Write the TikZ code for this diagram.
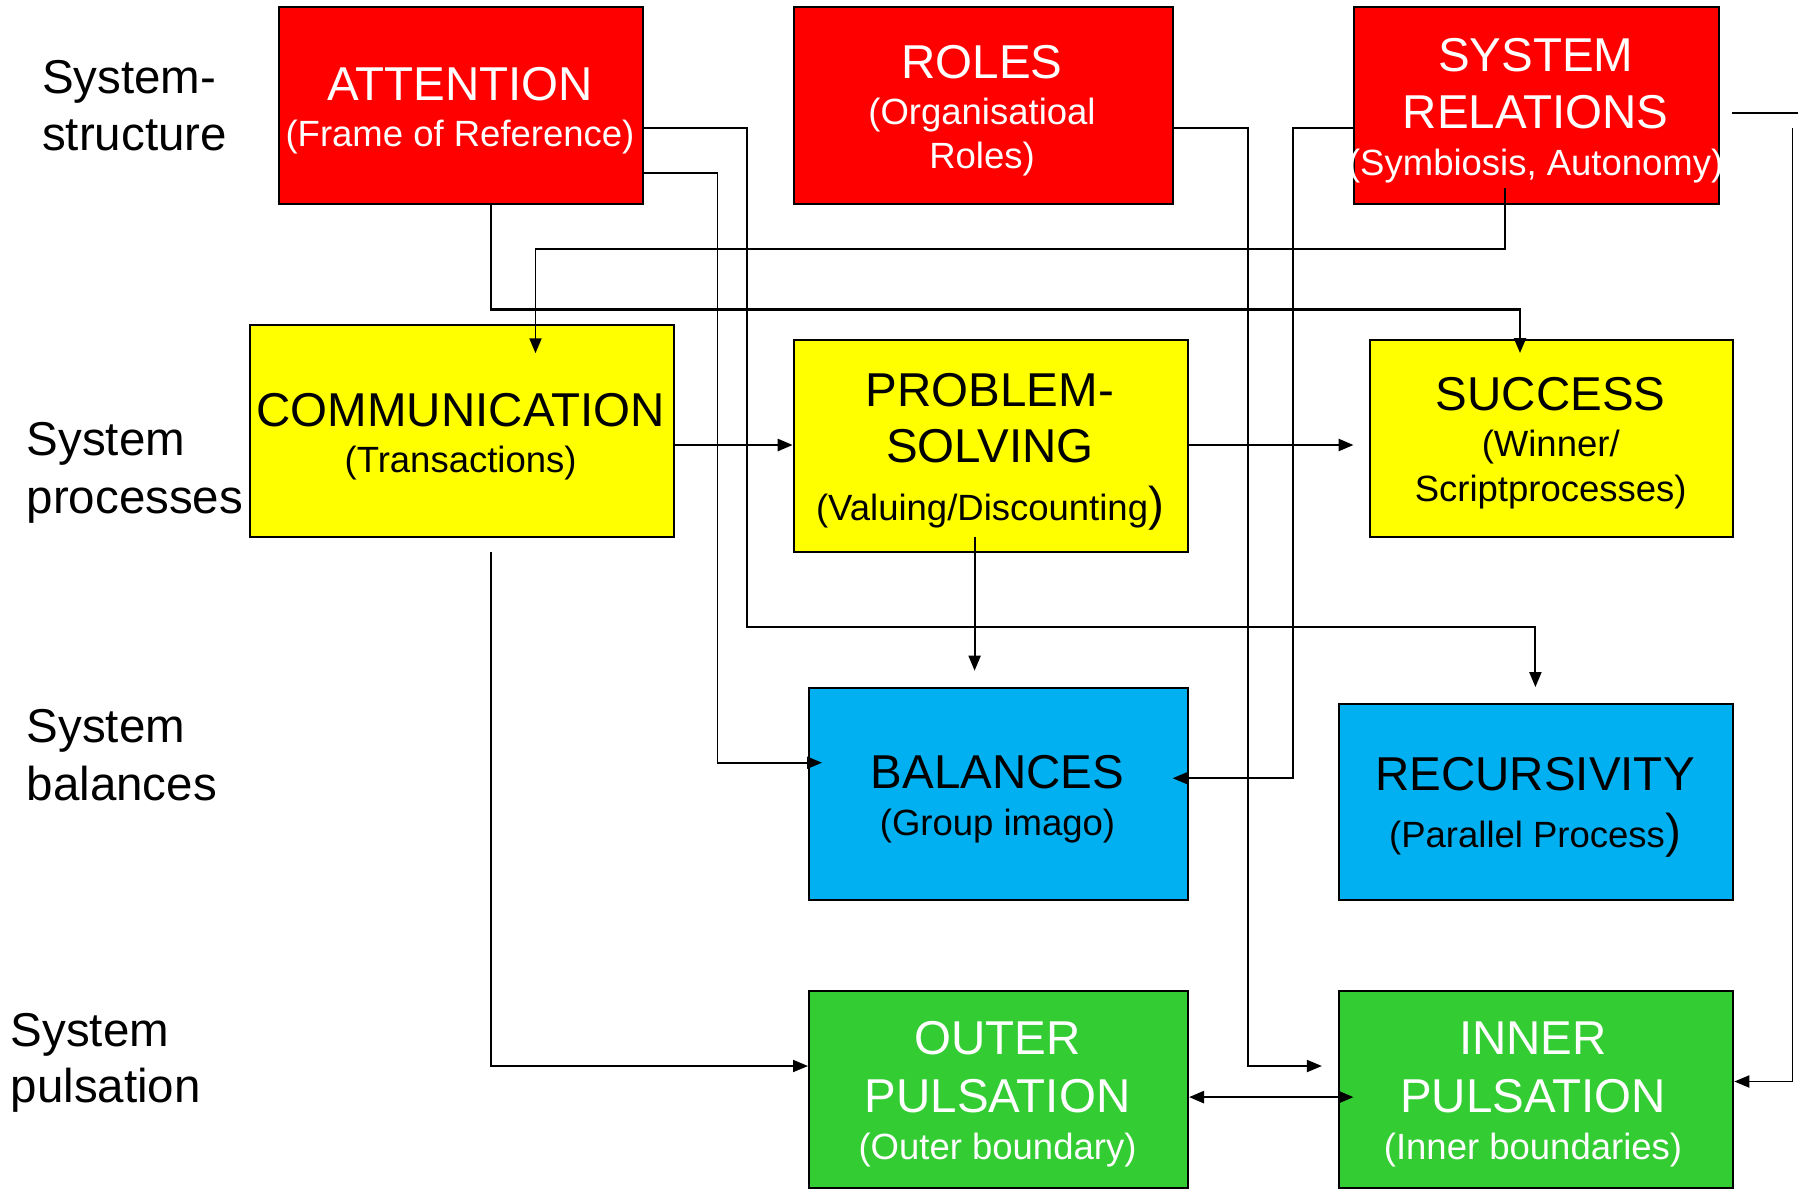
\documentclass[tikz,border=0pt]{standalone}
\usepackage{fontspec}
\setmainfont{Liberation Sans}
\usetikzlibrary{arrows.meta}
\definecolor{cred}{RGB}{255,0,0}
\definecolor{cyel}{RGB}{255,255,0}
\definecolor{cblue}{RGB}{0,176,240}
\definecolor{cgreen}{RGB}{51,204,51}
\newcommand{\bigp}[1]{{\fontsize{47.5}{50}\selectfont #1}}
\begin{document}
\begin{tikzpicture}[x=1pt,y=-1pt,
  box/.style={draw=black, line width=2pt, anchor=north west, inner sep=0pt},
  big/.style={font=\fontsize{47.5}{50}\selectfont, anchor=base, inner sep=0pt},
  small/.style={font=\fontsize{36.5}{40}\selectfont, anchor=base, inner sep=0pt},
  side/.style={font=\fontsize{47.5}{50}\selectfont, anchor=base west, inner sep=0pt},
  ln/.style={line width=1.9pt},
  arr/.style={line width=1.9pt, -{Triangle[length=15pt,width=12pt]}},
  tarr/.style={line width=2.5pt, -{Triangle[length=15pt,width=12pt]}},
  dbl/.style={line width=2.5pt, {Triangle[length=15pt,width=12pt]}-{Triangle[length=15pt,width=12pt]}}
]
\useasboundingbox (0,0) rectangle (1798,1192);

% boxes
\node[box, fill=cred, minimum width=363.3pt, minimum height=196.7pt] (att) at (278.4,6) {};
\node[box, fill=cred, minimum width=378.8pt, minimum height=197pt] (rol) at (792.7,6) {};
\node[box, fill=cred, minimum width=364.6pt, minimum height=197pt] (sr) at (1353.4,6) {};
\node[box, fill=cyel, minimum width=424.2pt, minimum height=212pt] (com) at (248.5,324) {};
\node[box, fill=cyel, minimum width=394.3pt, minimum height=211.7pt] (ps) at (792.7,339) {};
\node[box, fill=cyel, minimum width=363.3pt, minimum height=197pt] (suc) at (1369,339) {};
\node[box, fill=cblue, minimum width=379pt, minimum height=211.8pt] (bal) at (808,687.1) {};
\node[box, fill=cblue, minimum width=394.3pt, minimum height=196.2pt] (rec) at (1338,702.7) {};
\node[box, fill=cgreen, minimum width=379pt, minimum height=196.9pt] (out) at (808,990.4) {};
\node[box, fill=cgreen, minimum width=394.3pt, minimum height=196.9pt] (inn) at (1338,990.4) {};

% box texts
\node[big,white] (attA) at (460,100) {ATTENTION};
\node[small,white] (attB) at (460,146.7) {(Frame of Reference)};
\node[big,white] (rolA) at (982,78) {ROLES};
\node[small,white] (rolB) at (982,124) {(Organisatioal};
\node[small,white] (rolC) at (982,168) {Roles)};
\node[big,white] (srA) at (1535.7,71.7) {SYSTEM};
\node[big,white] (srB) at (1535.7,128.3) {RELATIONS};
\node[small,white] (srC) at (1535.7,175) {(Symbiosis, Autonomy)};
\node[big] (comA) at (460.6,426) {COMMUNICATION};
\node[small] (comB) at (460.6,472.7) {(Transactions)};
\node[big] (psA) at (990,406) {PROBLEM-};
\node[big] (psB) at (990,462.7) {SOLVING};
\node[small] (psC) at (990,520.7) {(Valuing/Discounting\bigp{)}};
\node[big] (sucA) at (1550.7,410.7) {SUCCESS};
\node[small] (sucB) at (1550.7,456.7) {(Winner/};
\node[small] (sucC) at (1550.7,501.7) {Scriptprocesses)};
\node[big] (balA) at (997.5,788.6) {BALANCES};
\node[small] (balB) at (997.5,835.4) {(Group imago)};
\node[big] (recA) at (1535,790.4) {RECURSIVITY};
\node[small] (recB) at (1535,847.6) {(Parallel Process\bigp{)}};
\node[big,white] (outA) at (997.5,1054.9) {OUTER};
\node[big,white] (outB) at (997.5,1112.7) {PULSATION};
\node[small,white] (outC) at (997.5,1159.5) {(Outer boundary)};
\node[big,white] (innA) at (1533,1054.9) {INNER};
\node[big,white] (innB) at (1533,1112.7) {PULSATION};
\node[small,white] (innC) at (1533,1159.5) {(Inner boundaries)};

% side labels
\node[side] (l1a) at (42,93.3) {System-};
\node[side] (l1b) at (42,150) {structure};
\node[side] (l2a) at (26.5,455) {System};
\node[side] (l2b) at (26.5,513) {processes};
\node[side] (l3a) at (26.5,742.9) {System};
\node[side] (l3b) at (26.5,800.8) {balances};
\node[side] (l4a) at (10.5,1046.2) {System};
\node[side] (l4b) at (10.5,1102.5) {pulsation};

% free connector ends
\coordinate (c1e) at (1535.4,687.1);
\coordinate (c2e) at (822,762.7);
\coordinate (c3e) at (1520,353);
\coordinate (c4s) at (1505,188);
\coordinate (c4e) at (535.5,353.3);
\coordinate (c5e) at (1321.9,1066);
\coordinate (c6e) at (1172.6,778.2);
\coordinate (c7a) at (1732,113);
\coordinate (c7b) at (1798,113);
\coordinate (c7s) at (1792.5,128);
\coordinate (c9e) at (1353.5,445);
\coordinate (c10s) at (974.6,536.7);
\coordinate (c10e) at (974.6,670.7);
\coordinate (c11s) at (490.8,551.7);
\coordinate (c12e) at (1353.5,1097.1);

% connectors
\draw[arr] (att.east |- 0,127.7) -| (747.3,626.7) -| (c1e);
\draw[arr] (att.east |- 0,173) -| (717.5,762.7) -- (c2e);
\draw[tarr] (att.south -| 490.8,0) |- (1520,309.3) -- (c3e);
\draw[arr] (c4s) |- (535.5,248.7) -- (c4e);
\draw[arr] (rol.east |- 0,127.7) -| (1247.8,1066) -- (c5e);
\draw[arr] (sr.west |- 0,127.7) -| (1293.2,778.2) -- (c6e);
\draw[ln] (c7a) -- (c7b);
\draw[arr] (c7s) |- (inn.east |- 0,1081.5);
\draw[tarr] (com.east |- 0,445) -- (ps.west |- 0,445);
\draw[tarr] (ps.east |- 0,445) -- (c9e);
\draw[arr] (c10s) -- (c10e);
\draw[arr] (c11s) |- (out.west |- 0,1066);
\draw[dbl] (out.east |- 0,1097.1) -- (c12e);
\end{tikzpicture}
\end{document}
